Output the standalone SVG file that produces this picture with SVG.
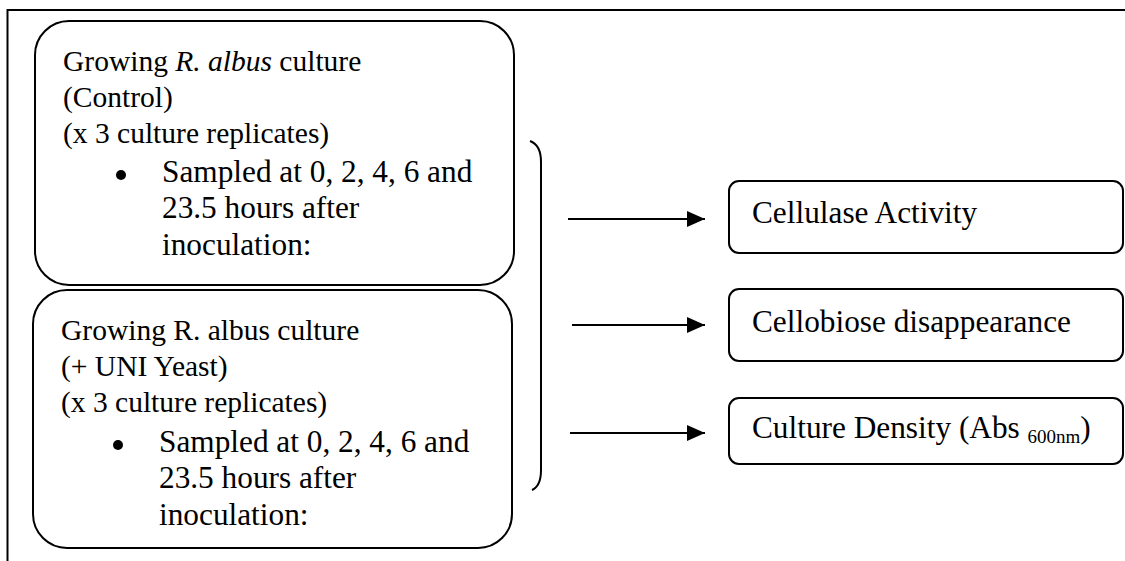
<svg xmlns="http://www.w3.org/2000/svg" width="1125" height="561" viewBox="0 0 1125 561">
<style>
  .t { font-family: "Liberation Serif", "Times New Roman", serif; font-size: 29.5px; fill: #000; }
  .b { font-size: 31.3px; }
  .box { fill: #fff; stroke: #000; stroke-width: 2; }
  .ln { fill: none; stroke: #000; stroke-width: 2; }
</style>
<defs>
  <marker id="ah" markerWidth="18" markerHeight="16" refX="18" refY="8" orient="auto" markerUnits="userSpaceOnUse">
    <path d="M0,0 L18,8 L0,16 Z" fill="#000"/>
  </marker>
</defs>
<rect width="1125" height="561" fill="#fff"/>
<g id="frame">
  <path class="ln" d="M7.5,561 L7.5,10 L1125,10"/>
</g>
<g id="control">
  <rect class="box" x="35" y="21" width="479" height="264" rx="34" ry="34"/>
  <text class="t" x="63" y="71">Growing <tspan font-style="italic">R. albus</tspan> culture</text>
  <text class="t" x="63" y="107">(Control)</text>
  <text class="t" x="63" y="143">(x 3 culture replicates)</text>
  <circle cx="121" cy="175" r="5" fill="#000"/>
  <text class="t b" x="162" y="182">Sampled at 0, 2, 4, 6 and</text>
  <text class="t b" x="162" y="218">23.5 hours after</text>
  <text class="t b" x="162" y="255">inoculation:</text>
</g>
<g id="yeast">
  <rect class="box" x="33" y="290" width="479" height="258" rx="34" ry="34"/>
  <text class="t" x="61" y="340">Growing R. albus culture</text>
  <text class="t" x="61" y="376">(+ UNI Yeast)</text>
  <text class="t" x="61" y="412">(x 3 culture replicates)</text>
  <circle cx="118" cy="445" r="5" fill="#000"/>
  <text class="t b" x="159" y="452">Sampled at 0, 2, 4, 6 and</text>
  <text class="t b" x="159" y="488">23.5 hours after</text>
  <text class="t b" x="159" y="525">inoculation:</text>
</g>
<g id="cellulase">
  <rect class="box" x="729" y="181" width="394" height="72" rx="10" ry="10"/>
  <text class="t b" x="752" y="223">Cellulase Activity</text>
</g>
<g id="cellobiose">
  <rect class="box" x="729" y="289" width="394" height="72" rx="10" ry="10"/>
  <text class="t b" x="752" y="332">Cellobiose disappearance</text>
</g>
<g id="density">
  <rect class="box" x="729" y="398" width="394" height="66" rx="10" ry="10"/>
  <text class="t b" x="752" y="438">Culture Density (Abs <tspan font-size="19" dy="5">600nm</tspan><tspan dy="-5">)</tspan></text>
</g>
<g id="connectors">
  <path class="ln" d="M530,141 Q541,145 541,162 L541,470 Q541,486 532,490"/>
  <line class="ln" x1="568" y1="219" x2="705" y2="219" marker-end="url(#ah)"/>
  <line class="ln" x1="572" y1="325" x2="705" y2="325" marker-end="url(#ah)"/>
  <line class="ln" x1="570" y1="433" x2="705" y2="433" marker-end="url(#ah)"/>
</g>
</svg>
